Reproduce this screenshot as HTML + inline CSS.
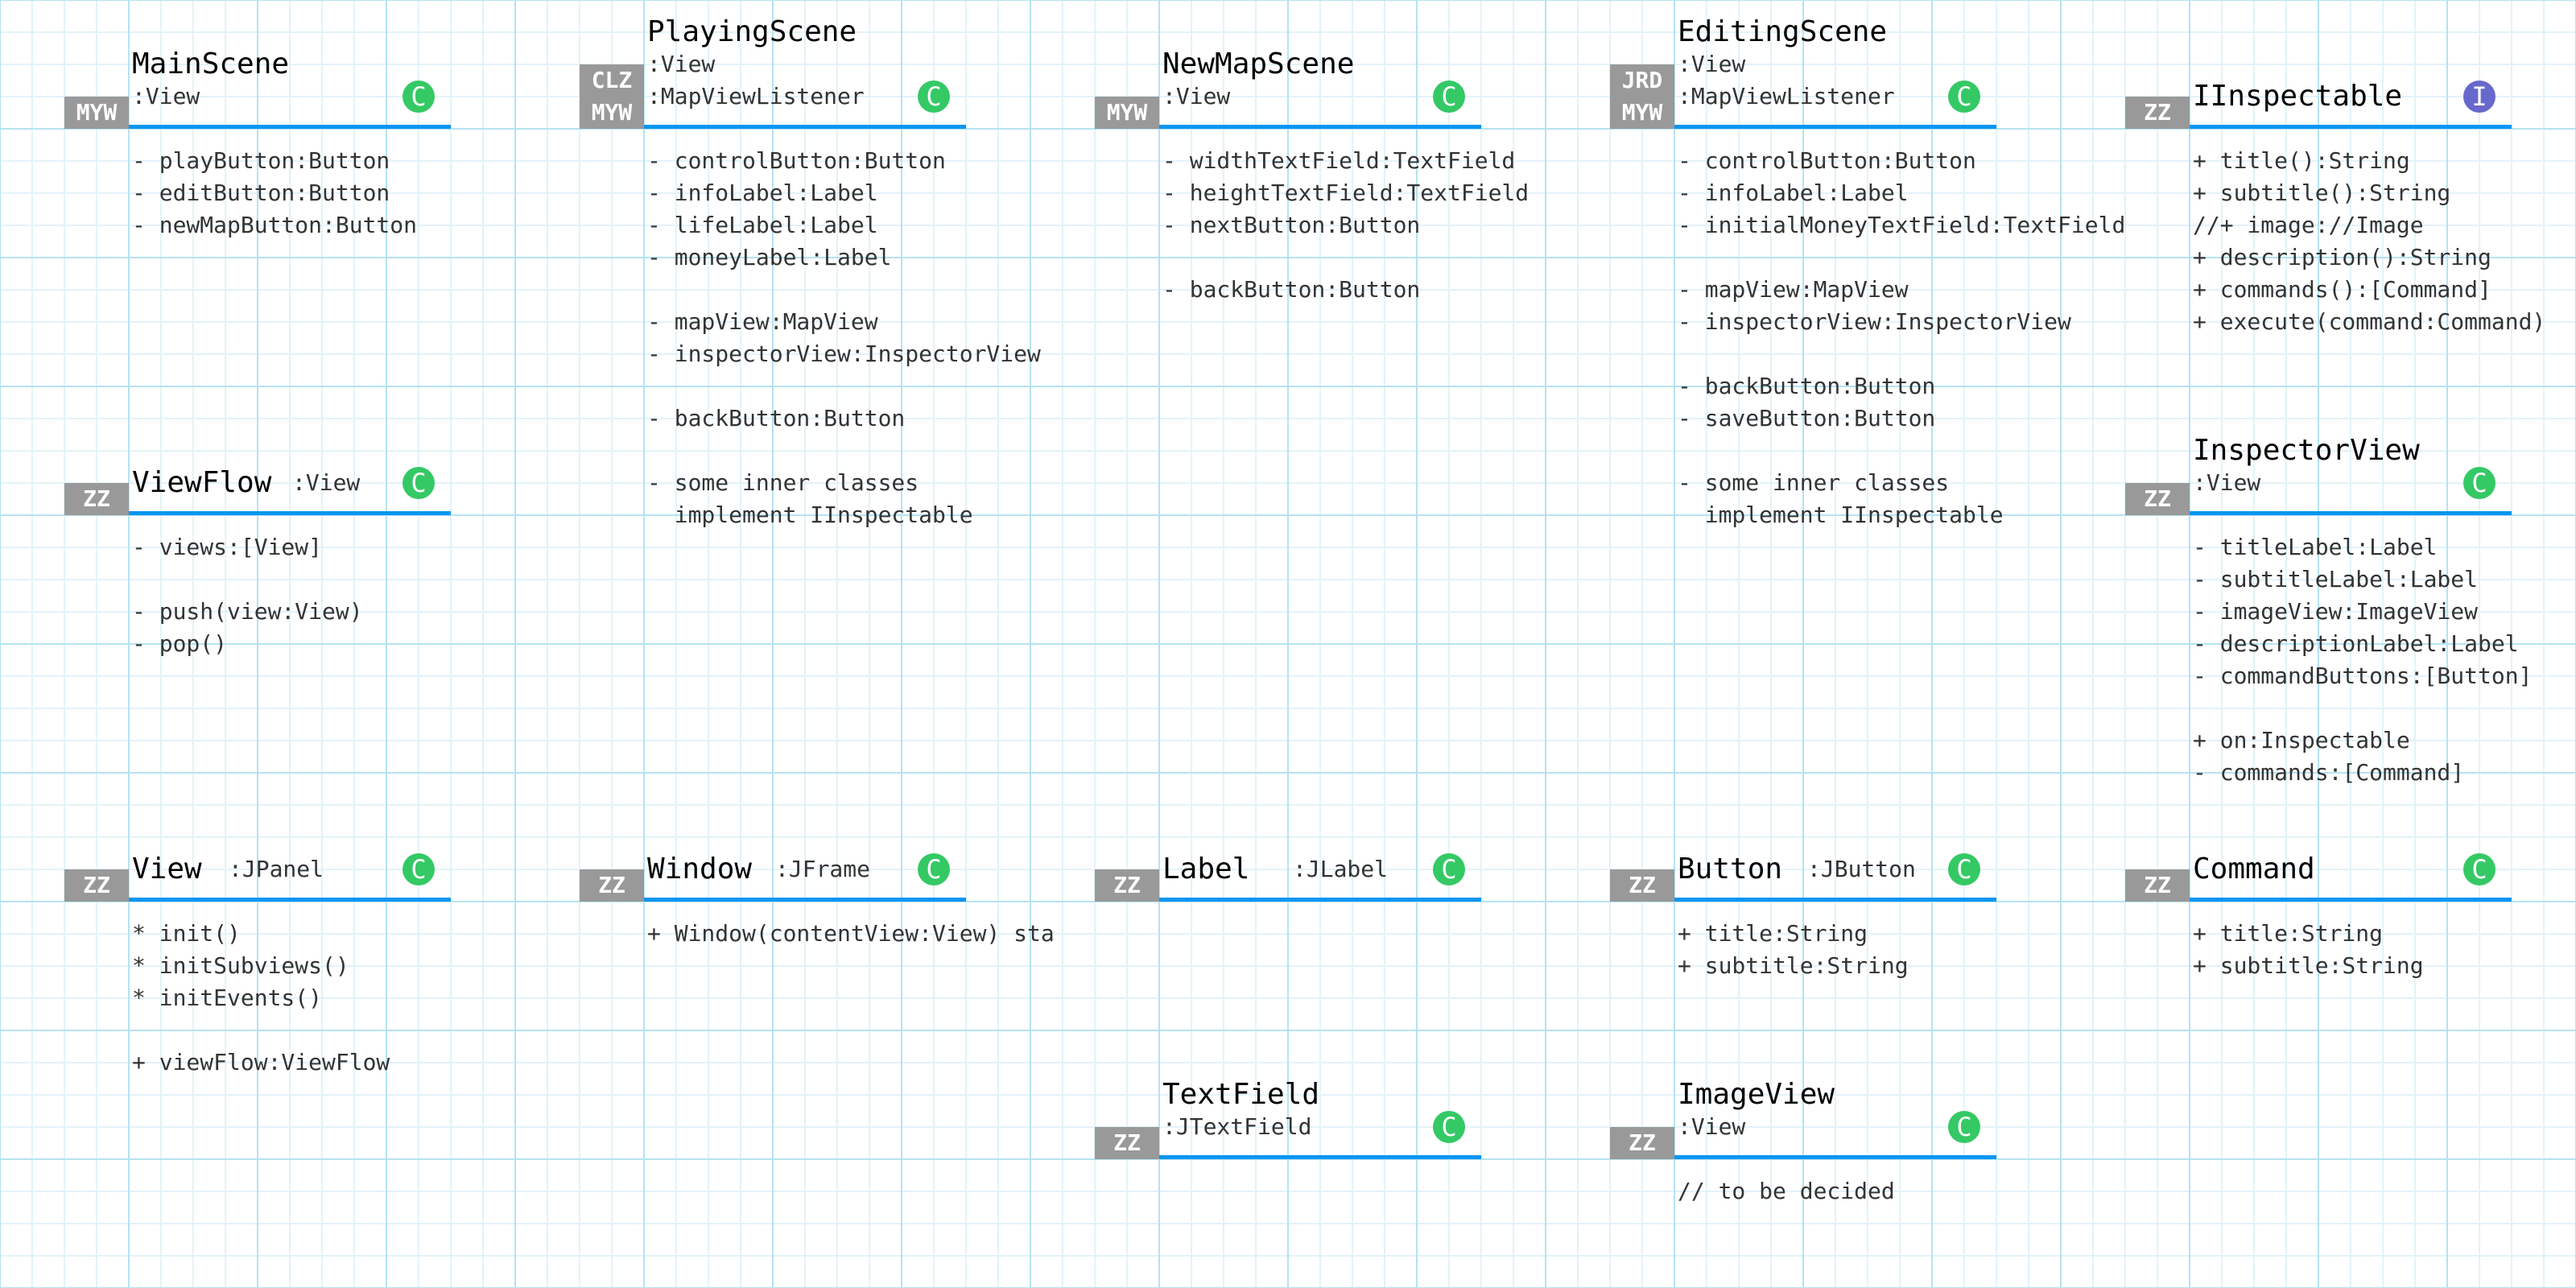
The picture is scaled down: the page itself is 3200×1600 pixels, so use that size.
<!DOCTYPE html>
<html><head><meta charset="utf-8"><style>
html,body{margin:0;padding:0}
body{width:3200px;height:1600px;position:relative;overflow:hidden;background:#fff;
background-image:
linear-gradient(to right,#b5e3f2 0,#b5e3f2 2px,transparent 2px),
linear-gradient(to bottom,#b5e3f2 0,#b5e3f2 2px,transparent 2px),
linear-gradient(to right,#e3f3f9 0,#e3f3f9 2px,transparent 2px),
linear-gradient(to bottom,#e3f3f9 0,#e3f3f9 2px,transparent 2px);
background-size:160px 160px,160px 160px,40px 40px,40px 40px;
background-position:-1px -1px;
font-family:"DejaVu Sans Mono","Liberation Mono",monospace}
.t{position:absolute;font-size:36px;line-height:40px;color:#000;white-space:pre}
.s{position:absolute;font-size:28px;line-height:40px;color:#333;white-space:pre}
.tag{position:absolute;width:80px;height:40px;background:#999;color:#fff;font-weight:bold;font-size:28px;line-height:40px;text-align:center}
.ln{position:absolute;height:5px;width:400px;background:#0a96f2}
.c{position:absolute;width:40px;height:40px;border-radius:50%;background:#34c965;color:#fff;font-size:32px;line-height:40px;text-align:center}
.m{position:absolute;font-size:28px;line-height:40px;color:#333;white-space:pre;margin:0;font-family:inherit}
</style></head><body>

<!-- MainScene -->
<div class="t" style="left:164px;top:60px">MainScene</div>
<div class="s" style="left:164px;top:100px">:View</div>
<div class="tag" style="left:80px;top:120px">MYW</div>
<div class="ln" style="left:160px;top:155px"></div>
<div class="c" style="left:500px;top:100px">C</div>
<pre class="m" style="left:164px;top:180px">- playButton:Button
- editButton:Button
- newMapButton:Button</pre>

<!-- PlayingScene -->
<div class="t" style="left:804px;top:20px">PlayingScene</div>
<div class="s" style="left:804px;top:60px">:View</div>
<div class="s" style="left:804px;top:100px">:MapViewListener</div>
<div class="tag" style="left:720px;top:80px">CLZ</div>
<div class="tag" style="left:720px;top:120px">MYW</div>
<div class="ln" style="left:800px;top:155px"></div>
<div class="c" style="left:1140px;top:100px">C</div>
<pre class="m" style="left:804px;top:180px">- controlButton:Button
- infoLabel:Label
- lifeLabel:Label
- moneyLabel:Label

- mapView:MapView
- inspectorView:InspectorView

- backButton:Button

- some inner classes
  implement IInspectable</pre>

<!-- NewMapScene -->
<div class="t" style="left:1444px;top:60px">NewMapScene</div>
<div class="s" style="left:1444px;top:100px">:View</div>
<div class="tag" style="left:1360px;top:120px">MYW</div>
<div class="ln" style="left:1440px;top:155px"></div>
<div class="c" style="left:1780px;top:100px">C</div>
<pre class="m" style="left:1444px;top:180px">- widthTextField:TextField
- heightTextField:TextField
- nextButton:Button

- backButton:Button</pre>

<!-- EditingScene -->
<div class="t" style="left:2084px;top:20px">EditingScene</div>
<div class="s" style="left:2084px;top:60px">:View</div>
<div class="s" style="left:2084px;top:100px">:MapViewListener</div>
<div class="tag" style="left:2000px;top:80px">JRD</div>
<div class="tag" style="left:2000px;top:120px">MYW</div>
<div class="ln" style="left:2080px;top:155px"></div>
<div class="c" style="left:2420px;top:100px">C</div>
<pre class="m" style="left:2084px;top:180px">- controlButton:Button
- infoLabel:Label
- initialMoneyTextField:TextField

- mapView:MapView
- inspectorView:InspectorView

- backButton:Button
- saveButton:Button

- some inner classes
  implement IInspectable</pre>

<!-- IInspectable -->
<div class="t" style="left:2724px;top:100px">IInspectable</div>
<div class="tag" style="left:2640px;top:120px">ZZ</div>
<div class="ln" style="left:2720px;top:155px"></div>
<div class="c" style="left:3060px;top:100px;background:#6868cc">I</div>
<pre class="m" style="left:2724px;top:180px">+ title():String
+ subtitle():String
//+ image://Image
+ description():String
+ commands():[Command]
+ execute(command:Command)</pre>

<!-- ViewFlow -->
<div class="t" style="left:164px;top:580px">ViewFlow</div>
<div class="s" style="left:363px;top:580px">:View</div>
<div class="tag" style="left:80px;top:600px">ZZ</div>
<div class="ln" style="left:160px;top:635px"></div>
<div class="c" style="left:500px;top:580px">C</div>
<pre class="m" style="left:164px;top:660px">- views:[View]

- push(view:View)
- pop()</pre>

<!-- InspectorView -->
<div class="t" style="left:2724px;top:540px">InspectorView</div>
<div class="s" style="left:2724px;top:580px">:View</div>
<div class="tag" style="left:2640px;top:600px">ZZ</div>
<div class="ln" style="left:2720px;top:635px"></div>
<div class="c" style="left:3060px;top:580px">C</div>
<pre class="m" style="left:2724px;top:660px">- titleLabel:Label
- subtitleLabel:Label
- imageView:ImageView
- descriptionLabel:Label
- commandButtons:[Button]

+ on:Inspectable
- commands:[Command]</pre>

<!-- View -->
<div class="t" style="left:164px;top:1060px">View</div>
<div class="s" style="left:284px;top:1060px">:JPanel</div>
<div class="tag" style="left:80px;top:1080px">ZZ</div>
<div class="ln" style="left:160px;top:1115px"></div>
<div class="c" style="left:500px;top:1060px">C</div>
<pre class="m" style="left:164px;top:1140px">* init()
* initSubviews()
* initEvents()

+ viewFlow:ViewFlow</pre>

<!-- Window -->
<div class="t" style="left:804px;top:1060px">Window</div>
<div class="s" style="left:963px;top:1060px">:JFrame</div>
<div class="tag" style="left:720px;top:1080px">ZZ</div>
<div class="ln" style="left:800px;top:1115px"></div>
<div class="c" style="left:1140px;top:1060px">C</div>
<pre class="m" style="left:804px;top:1140px">+ Window(contentView:View) sta</pre>

<!-- Label -->
<div class="t" style="left:1444px;top:1060px">Label</div>
<div class="s" style="left:1606px;top:1060px">:JLabel</div>
<div class="tag" style="left:1360px;top:1080px">ZZ</div>
<div class="ln" style="left:1440px;top:1115px"></div>
<div class="c" style="left:1780px;top:1060px">C</div>

<!-- Button -->
<div class="t" style="left:2084px;top:1060px">Button</div>
<div class="s" style="left:2245px;top:1060px">:JButton</div>
<div class="tag" style="left:2000px;top:1080px">ZZ</div>
<div class="ln" style="left:2080px;top:1115px"></div>
<div class="c" style="left:2420px;top:1060px">C</div>
<pre class="m" style="left:2084px;top:1140px">+ title:String
+ subtitle:String</pre>

<!-- Command -->
<div class="t" style="left:2724px;top:1060px">Command</div>
<div class="tag" style="left:2640px;top:1080px">ZZ</div>
<div class="ln" style="left:2720px;top:1115px"></div>
<div class="c" style="left:3060px;top:1060px">C</div>
<pre class="m" style="left:2724px;top:1140px">+ title:String
+ subtitle:String</pre>

<!-- TextField -->
<div class="t" style="left:1444px;top:1340px">TextField</div>
<div class="s" style="left:1444px;top:1380px">:JTextField</div>
<div class="tag" style="left:1360px;top:1400px">ZZ</div>
<div class="ln" style="left:1440px;top:1435px"></div>
<div class="c" style="left:1780px;top:1380px">C</div>

<!-- ImageView -->
<div class="t" style="left:2084px;top:1340px">ImageView</div>
<div class="s" style="left:2084px;top:1380px">:View</div>
<div class="tag" style="left:2000px;top:1400px">ZZ</div>
<div class="ln" style="left:2080px;top:1435px"></div>
<div class="c" style="left:2420px;top:1380px">C</div>
<pre class="m" style="left:2084px;top:1460px">// to be decided</pre>

</body></html>
